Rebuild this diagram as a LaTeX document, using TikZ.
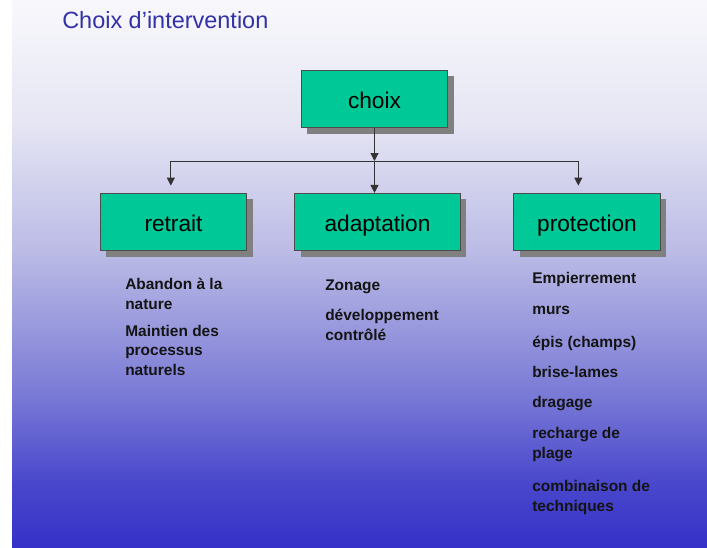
\documentclass[tikz,border=0pt]{standalone}
\usepackage{fontspec}
\setmainfont{Liberation Sans}
\usepackage{xcolor}
\usetikzlibrary{arrows.meta,shadows}

\definecolor{titleblue}{HTML}{3232A8}
\definecolor{boxgreen}{HTML}{00C896}
\definecolor{bgtop}{HTML}{F8F8FC}
\definecolor{bgA}{HTML}{E6E6F4}
\definecolor{bgB}{HTML}{BBBBE6}
\definecolor{bgC}{HTML}{7A7AD6}
\definecolor{bgD}{HTML}{4A48CC}
\definecolor{bgbot}{HTML}{3531C8}
\pgfdeclareverticalshading{slidebg}{100bp}{color(0bp)=(bgbot); color(25bp)=(bgbot); color(31bp)=(bgD); color(39bp)=(bgC); color(52bp)=(bgB); color(64bp)=(bgA); color(75bp)=(bgtop); color(100bp)=(bgtop)}

\begin{document}
\begin{tikzpicture}[
  x=0.75pt, y=-0.75pt,
  >={Triangle[width=6pt,length=6pt]},
  box/.style={draw=black!70, line width=0.6pt, fill=boxgreen, minimum width=110pt, minimum height=43pt,
    font=\fontsize{17}{20}\selectfont, text height=13.5pt, text depth=0pt,
    drop shadow={shadow xshift=4.5pt, shadow yshift=-4.5pt, fill=black!50, opacity=1}},
  conn/.style={->, draw=black!80, line width=0.75pt},
  item/.style={anchor=base west, align=left, inner sep=0pt, font=\bfseries\fontsize{11.6}{14.6}\selectfont, text=black!92}
]
\useasboundingbox (0,0) rectangle (707,547);
\shade[shading=slidebg] (12,0) rectangle (707,547);

\node[anchor=base west, inner sep=0pt, font=\fontsize{17.6}{20}\selectfont, text=titleblue] (title) at (62,28) {Choix d’intervention};

% boxes
\node[box] (choix) at (374.5,99) {choix};
\node[box] (retrait) at (173.5,222) {retrait};
\node[box, minimum width=124pt] (adapt) at (377.5,222) {adaptation};
\node[box] (protect) at (587,222) {protection};

% connectors
\coordinate (hub) at (choix.south |- 0,161);
\draw[conn] (choix) -- (hub);
\draw[conn] (hub) -- (hub |- adapt.north);
\draw[conn, shorten >=5.5pt] (hub) -| ([xshift=-2pt]retrait.north);
\draw[conn, shorten >=5.5pt] (hub) -| ([xshift=-6.5pt]protect.north);

% retrait (multi-line items sit on their last line)
\node[item] (retrait1) at (125,309) {Abandon à la\\nature};
\node[item] (retrait2) at (125,375) {Maintien des\\processus\\naturels};

% adaptation
\node[item] (adapt1) at (325,290) {Zonage};
\node[item] (adapt2) at (325,340) {développement\\contrôlé};

% protection
\node[item] (prot1) at (532,283) {Empierrement};
\node[item] (prot2) at (532,314) {murs};
\node[item] (prot3) at (532,347) {épis (champs)};
\node[item] (prot4) at (532,377) {brise-lames};
\node[item] (prot5) at (532,407) {dragage};
\node[item] (prot6) at (532,458) {recharge de\\plage};
\node[item] (prot7) at (532,511) {combinaison de\\techniques};
\end{tikzpicture}
\end{document}
